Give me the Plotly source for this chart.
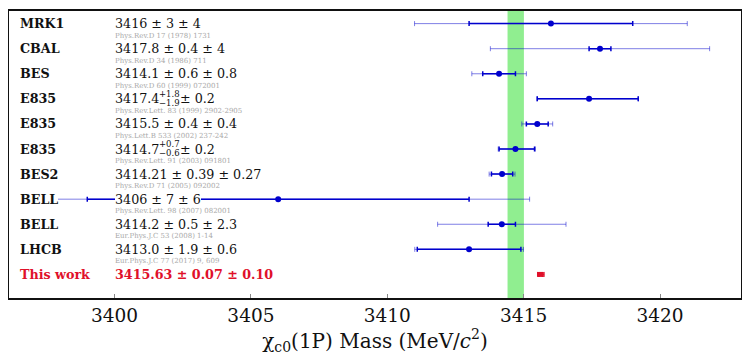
import math
import plotly.graph_objects as go

experiments = ["MRK1", "CBAL", "BES", "E835", "E835", "E835", "BES2", "BELL", "BELL", "LHCB"]
masses = [3416.0, 3417.8, 3414.1, 3417.4, 3415.5, 3414.7, 3414.21, 3406.0, 3414.2, 3413.0]
stat_plus = [3.0, 0.4, 0.6, 1.8, 0.4, 0.7, 0.39, 7.0, 0.5, 1.9]
stat_minus = [3.0, 0.4, 0.6, 1.9, 0.4, 0.6, 0.39, 7.0, 0.5, 1.9]
syst = [4.0, 4.0, 0.8, 0.2, 0.4, 0.2, 0.27, 6.0, 2.3, 0.6]
value_texts = ["3416 ± 3 ± 4", "3417.8 ± 0.4 ± 4", "3414.1 ± 0.6 ± 0.8", None,
               "3415.5 ± 0.4 ± 0.4", None, "3414.21 ± 0.39 ± 0.27", "3406 ± 7 ± 6",
               "3414.2 ± 0.5 ± 2.3", "3413.0 ± 1.9 ± 0.6"]
asym_parts = {3: ("3417.4", "+1.8", "−1.9", "± 0.2"), 5: ("3414.7", "+0.7", "−0.6", "± 0.2")}
references = ["Phys.Rev.D 17 (1978) 1731", "Phys.Rev.D 34 (1986) 711", "Phys.Rev.D 60 (1999) 072001",
              "Phys.Rev.Lett. 83 (1999) 2902-2905", "Phys.Lett.B 533 (2002) 237-242",
              "Phys.Rev.Lett. 91 (2003) 091801", "Phys.Rev.D 71 (2005) 092002",
              "Phys.Rev.Lett. 98 (2007) 082001", "Eur.Phys.J.C 53 (2008) 1-14",
              "Eur.Phys.J.C 77 (2017) 9, 609"]

this_label = "This work"
this_mass = 3415.63
this_stat = 0.07
this_syst = 0.10
this_text = "3415.63 ± 0.07 ± 0.10"

pdg_mass = 3414.71
pdg_err = 0.30

x_ticks = [3400, 3405, 3410, 3415, 3420]

FONT = "DejaVu Serif"
BLUE = "#0000cd"
BLUE_LIGHT = "rgba(0,0,205,0.5)"
RED = "#e0102a"
n = len(experiments)
rows = list(range(n))
row_this = n

tot_plus = [math.sqrt(a * a + s * s) for a, s in zip(stat_plus, syst)]
tot_minus = [math.sqrt(a * a + s * s) for a, s in zip(stat_minus, syst)]

fig = go.Figure()
fig.add_vrect(x0=pdg_mass - pdg_err, x1=pdg_mass + pdg_err, fillcolor="#90ee90",
              opacity=1, line_width=0, layer="below")

fig.add_trace(go.Scatter(x=masses, y=rows, mode="markers", marker=dict(size=1, color="rgba(0,0,0,0)"),
                         error_x=dict(type="data", symmetric=False, array=tot_plus, arrayminus=tot_minus,
                                      color=BLUE_LIGHT, thickness=1, width=2.5),
                         showlegend=False, hoverinfo="skip"))
fig.add_trace(go.Scatter(x=masses, y=rows, mode="markers", marker=dict(size=6, color=BLUE),
                         error_x=dict(type="data", symmetric=False, array=stat_plus, arrayminus=stat_minus,
                                      color=BLUE, thickness=1.5, width=2.5),
                         showlegend=False))
this_tot = math.sqrt(this_stat ** 2 + this_syst ** 2)
fig.add_trace(go.Scatter(x=[this_mass], y=[row_this], mode="markers", marker=dict(size=1, color="rgba(0,0,0,0)"),
                         error_x=dict(type="data", array=[this_tot], color=RED, thickness=1, width=2.5),
                         showlegend=False, hoverinfo="skip"))
fig.add_trace(go.Scatter(x=[this_mass], y=[row_this], mode="markers",
                         marker=dict(size=5, color=RED, symbol="square"),
                         error_x=dict(type="data", array=[this_stat], color=RED, thickness=2, width=2.5),
                         showlegend=False))

LABEL_X = 3396.55
VALUE_X = 3400.0
ann = []


def add_text(x, y, text, size, color="#111", bold=False, bg="white", xshift=0, yshift=0):
    a = dict(x=x, y=y, xref="x", yref="y", text=("<b>%s</b>" % text) if bold else text,
             showarrow=False, xanchor="left", yanchor="middle", xshift=xshift, yshift=yshift,
             font=dict(family=FONT, size=size, color=color), borderpad=0, borderwidth=0)
    if bg:
        a["bgcolor"] = bg
    ann.append(a)


for i in rows:
    add_text(LABEL_X, i, experiments[i], 12.7, color="#111", bold=True)
    if value_texts[i] is not None:
        add_text(VALUE_X, i, value_texts[i], 12.7)
    else:
        base, sup, sub, rest = asym_parts[i]
        add_text(VALUE_X, i, base, 12.7)
        add_text(VALUE_X, i, sup, 8.5, bg=None, xshift=44.6, yshift=5)
        add_text(VALUE_X, i, sub, 8.5, bg=None, xshift=44.6, yshift=-4)
        add_text(VALUE_X, i, rest, 12.7, xshift=65)
    add_text(VALUE_X, i, references[i], 7, color="#a8a8a8", bg=None, yshift=-12)

add_text(LABEL_X, row_this, this_label, 12.7, color=RED, bold=True)
add_text(VALUE_X, row_this, this_text, 12.7, color=RED, bold=True)

fig.update_layout(
    width=742, height=348,
    margin=dict(l=1, r=9, t=1, b=58),
    paper_bgcolor="white", plot_bgcolor="white",
    annotations=ann,
    font=dict(family=FONT, color="#111"),
    xaxis=dict(range=[3396.13, 3422.97], tickvals=x_ticks, ticktext=[str(t) for t in x_ticks],
               ticks="inside", ticklen=4, tickcolor="#888", tickwidth=1,
               showline=True, linecolor="#111", linewidth=2, mirror=True,
               showgrid=False, zeroline=False,
               tickfont=dict(family=FONT, size=18.5, color="#111"),
               title=dict(text="χ<sub>c0</sub>(1P) Mass (MeV/<i>c</i><sup>2</sup>)",
                          font=dict(family=FONT, size=20, color="#111"), standoff=7)),
    yaxis=dict(range=[10.94, -0.503], showticklabels=False, ticks="",
               showline=True, linecolor="#111", linewidth=2, mirror=True,
               showgrid=False, zeroline=False),
)

fig.write_html("out.html")
